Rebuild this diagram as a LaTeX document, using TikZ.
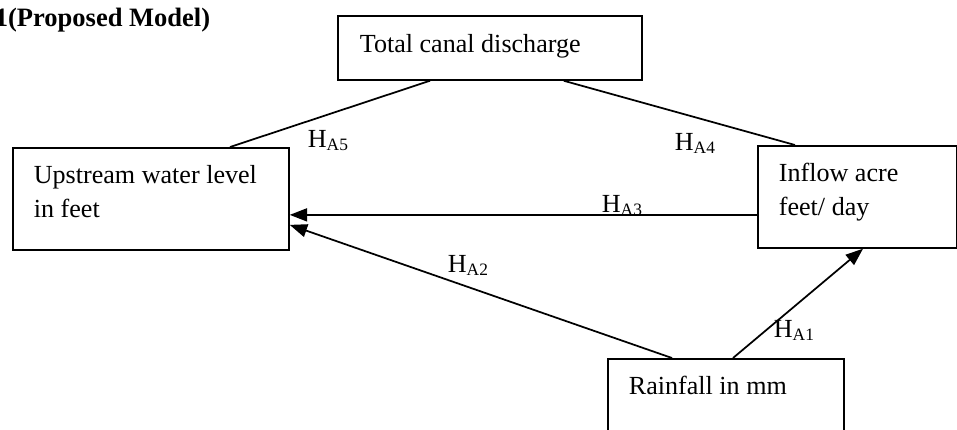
\documentclass[tikz,border=0pt]{standalone}
\usepackage{fontspec}
\setmainfont{Liberation Serif}
\usetikzlibrary{positioning, calc, arrows.meta}

\begin{document}
\begin{tikzpicture}[
    % GLOBAL SETTINGS
    x=0.46pt, y=-0.46pt,
    line width=0.8pt,
    % STYLES
    box/.style={draw=black, rectangle, anchor=north west, inner sep=0pt},
    txt/.style={font=\fontsize{12}{15.6}\selectfont, align=left, anchor=base west, inner sep=0pt},
    hyp/.style={font=\fontsize{12}{14}\selectfont, anchor=base west, inner sep=0pt},
    title/.style={font=\fontsize{12.2}{14}\selectfont\bfseries, anchor=base west, inner sep=0pt},
    link/.style={draw, -},
    arr/.style={draw, -{Triangle[length=8pt, width=6pt]}}
]

    \def\pxl{0.46pt}
    \useasboundingbox (0,0) rectangle (957,429);

    \node[title] (ttl) at (-6,26) {1(Proposed Model)};

    % Boxes
    \node[box, minimum width=304*\pxl, minimum height=64*\pxl]  (dis)  at (337,15)  {};
    \node[box, minimum width=276*\pxl, minimum height=102*\pxl] (up)   at (12,147)  {};
    \node[box, minimum width=199*\pxl, minimum height=102*\pxl] (inf)  at (757,145) {};
    \node[box, minimum width=236*\pxl, minimum height=92*\pxl]  (rain) at (607,358) {};

    % Box texts (base = last line)
    \node[txt] (dis-t)  at ($(dis.north west)+(22,37)$)  {Total canal discharge};
    \node[txt] (up-t)   at ($(up.north west)+(21,70)$)   {Upstream water level\\in feet};
    \node[txt] (inf-t)  at ($(inf.north west)+(21,70)$)  {Inflow acre\\feet/ day};
    \node[txt] (rain-t) at ($(rain.north west)+(21,36)$) {Rainfall in mm};

    % Connectors
    \draw[link] ($(dis.south west)+(93,0)$) -- ($(up.north west)+(218,0)$);
    \draw[link] ($(dis.south east)+(-79,0)$) -- ($(inf.north west)+(38,0)$);
    \coordinate (a3) at ($(inf.west)+(0,18)$);
    \draw[arr] (a3) -- (a3 -| up.east);
    \draw[arr] ($(rain.north west)+(65,0)$) -- ($(up.east)+(0,26)$);
    \draw[arr] ($(rain.north west)+(126,0)$) -- ($(inf.south west)+(106,0)$);

    % Hypothesis labels
    \foreach \n/\xx/\yy in {5/307/147, 4/674/150, 3/601/212, 2/447/272, 1/773/337} {
        \node[hyp] (h\n) at (\xx,\yy) {H\textsubscript{A\n}};
    }

\end{tikzpicture}
\end{document}
